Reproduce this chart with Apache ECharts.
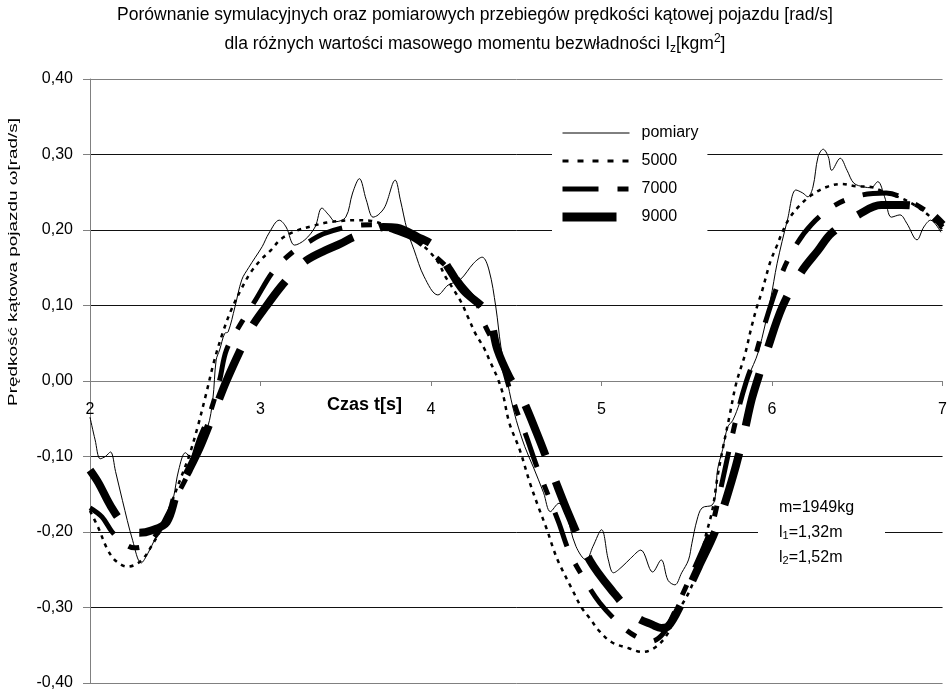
<!DOCTYPE html>
<html><head><meta charset="utf-8">
<script src="https://cdn.jsdelivr.net/npm/echarts/dist/echarts.min.js"></script>
<style>html,body{margin:0;padding:0;background:#fff}#c{width:950px;height:695px}</style>
</head><body><div id="c"></div>
<script>
// ---- data ----
const xTicks = [2, 3, 4, 5, 6, 7];
const yTicks = [-0.4, -0.3, -0.2, -0.1, 0, 0.1, 0.2, 0.3, 0.4];
const seriesNames = ['pomiary', '5000', '7000', '9000'];

const pomiaryT = [2.00,2.03,2.06,2.09,2.12,2.15,2.19,2.25,2.30,2.34,2.41,2.45,2.49,2.52,2.56,2.60,2.64,2.69,2.72,2.74,2.76,2.79,2.81,2.85,2.89,2.93,2.97,3.01,3.05,3.11,3.15,3.20,3.26,3.32,3.36,3.40,3.44,3.50,3.54,3.58,3.62,3.66,3.69,3.73,3.79,3.82,3.86,3.90,3.96,4.04,4.10,4.17,4.25,4.30,4.34,4.38,4.41,4.45,4.47,4.50,4.55,4.60,4.66,4.70,4.75,4.79,4.85,4.91,4.95,5.00,5.04,5.07,5.12,5.17,5.23,5.30,5.35,5.39,5.43,5.47,5.51,5.53,5.56,5.59,5.65,5.67,5.68,5.71,5.74,5.77,5.81,5.86,5.92,5.99,6.03,6.09,6.14,6.18,6.21,6.24,6.27,6.30,6.33,6.35,6.40,6.44,6.48,6.54,6.58,6.62,6.66,6.70,6.75,6.79,6.85,6.89,6.93,6.99];
const pomiaryV = [-0.048,-0.078,-0.103,-0.100,-0.094,-0.120,-0.158,-0.211,-0.241,-0.228,-0.197,-0.188,-0.154,-0.118,-0.095,-0.105,-0.082,-0.061,-0.025,0.028,0.041,0.063,0.065,0.098,0.134,0.150,0.164,0.178,0.196,0.213,0.204,0.180,0.187,0.204,0.229,0.220,0.211,0.217,0.249,0.268,0.240,0.217,0.220,0.231,0.266,0.240,0.200,0.174,0.138,0.114,0.127,0.134,0.156,0.164,0.147,0.098,0.045,-0.003,-0.025,-0.052,-0.087,-0.114,-0.148,-0.173,-0.162,-0.175,-0.219,-0.237,-0.219,-0.197,-0.237,-0.254,-0.246,-0.235,-0.224,-0.253,-0.237,-0.264,-0.270,-0.254,-0.237,-0.215,-0.184,-0.168,-0.164,-0.148,-0.118,-0.091,-0.061,-0.052,-0.029,0.005,0.039,0.107,0.156,0.213,0.253,0.249,0.244,0.257,0.297,0.307,0.297,0.279,0.295,0.279,0.262,0.257,0.256,0.264,0.244,0.217,0.220,0.209,0.187,0.204,0.213,0.197];

const sim5000T = [2.00,2.05,2.10,2.15,2.22,2.30,2.37,2.43,2.48,2.53,2.58,2.63,2.68,2.73,2.78,2.83,2.89,2.94,3.00,3.06,3.12,3.21,3.30,3.39,3.47,3.56,3.65,3.75,3.85,3.95,4.04,4.08,4.13,4.18,4.22,4.26,4.31,4.35,4.39,4.42,4.46,4.52,4.58,4.63,4.68,4.72,4.75,4.83,4.88,4.93,4.99,5.06,5.16,5.24,5.32,5.39,5.43,5.51,5.57,5.61,5.65,5.68,5.71,5.75,5.79,5.84,5.88,5.91,5.94,5.99,6.03,6.06,6.10,6.16,6.23,6.32,6.41,6.49,6.58,6.67,6.76,6.85,6.93,7.00];
const sim5000V = [-0.172,-0.195,-0.222,-0.238,-0.246,-0.238,-0.215,-0.190,-0.160,-0.130,-0.100,-0.062,-0.018,0.028,0.065,0.095,0.123,0.143,0.160,0.173,0.188,0.199,0.205,0.210,0.212,0.213,0.212,0.205,0.195,0.180,0.158,0.140,0.122,0.103,0.083,0.063,0.044,0.024,0.004,-0.016,-0.056,-0.091,-0.135,-0.167,-0.197,-0.224,-0.241,-0.277,-0.299,-0.314,-0.332,-0.346,-0.354,-0.359,-0.352,-0.334,-0.312,-0.281,-0.246,-0.206,-0.171,-0.127,-0.091,-0.047,-0.003,0.034,0.072,0.097,0.118,0.158,0.180,0.197,0.215,0.232,0.246,0.257,0.261,0.258,0.257,0.249,0.242,0.231,0.217,0.200];

const sim7000T = [2.00,2.07,2.13,2.20,2.26,2.33,2.40,2.46,2.52,2.58,2.64,2.70,2.76,2.80,2.89,2.97,3.08,3.20,3.28,3.37,3.53,3.69,3.77,3.90,4.00,4.12,4.19,4.27,4.31,4.40,4.46,4.50,4.56,4.62,4.69,4.75,4.81,4.90,4.99,5.12,5.20,5.29,5.36,5.42,5.50,5.57,5.64,5.68,5.74,5.80,5.85,5.90,5.94,6.05,6.13,6.23,6.37,6.52,6.67,6.79,6.91,7.00];
const sim7000V = [-0.168,-0.180,-0.200,-0.215,-0.221,-0.217,-0.200,-0.175,-0.148,-0.120,-0.078,-0.045,0.001,0.041,0.078,0.107,0.147,0.173,0.184,0.195,0.205,0.207,0.200,0.188,0.170,0.145,0.125,0.103,0.077,0.035,-0.010,-0.038,-0.074,-0.113,-0.153,-0.188,-0.226,-0.263,-0.294,-0.325,-0.338,-0.345,-0.335,-0.310,-0.270,-0.235,-0.197,-0.162,-0.100,-0.040,0.000,0.032,0.063,0.138,0.176,0.207,0.233,0.246,0.249,0.240,0.224,0.204];

const sim9000T = [2.00,2.05,2.12,2.20,2.29,2.36,2.45,2.51,2.58,2.65,2.74,2.80,2.88,2.95,3.03,3.12,3.20,3.27,3.38,3.47,3.55,3.65,3.72,3.80,3.92,4.02,4.11,4.19,4.33,4.39,4.46,4.53,4.62,4.72,4.81,4.93,5.07,5.20,5.30,5.35,5.39,5.47,5.57,5.67,5.77,5.83,5.88,5.92,5.97,6.06,6.17,6.27,6.35,6.52,6.64,6.76,6.85,6.93,7.00];
const sim9000V = [-0.118,-0.135,-0.165,-0.190,-0.201,-0.198,-0.187,-0.148,-0.118,-0.085,-0.034,0.000,0.040,0.072,0.098,0.125,0.145,0.160,0.173,0.182,0.191,0.198,0.204,0.203,0.191,0.178,0.147,0.120,0.090,0.041,0.005,-0.021,-0.069,-0.127,-0.178,-0.237,-0.280,-0.312,-0.323,-0.327,-0.325,-0.294,-0.246,-0.197,-0.127,-0.075,-0.025,0.005,0.040,0.098,0.144,0.173,0.196,0.222,0.233,0.233,0.231,0.222,0.207];

// ---- build ----
const zip = (t, v) => t.map((x, i) => [x, v[i]]);
const FONT = '"Liberation Sans", Arial, sans-serif';
const fmt = v => v.toFixed(2).replace('.', ',').replace('-0,00', '0,00');

const chart = echarts.init(document.getElementById('c'), null, {renderer: 'canvas'});
const styles = [
  {width: 1, type: 'solid'},
  {width: 2.5, type: [4, 5]},
  {width: 5, type: [36, 19, 11, 19]},
  {width: 8, type: [54, 28]}
];
const legendStyles = [
  {width: 1, type: 'solid'},
  {width: 3, type: [6, 9]},
  {width: 5, type: [36, 19, 11, 19]},
  {width: 9, type: [54, 20]}
];
const dataSets = [zip(pomiaryT, pomiaryV), zip(sim5000T, sim5000V), zip(sim7000T, sim7000V), zip(sim9000T, sim9000V)];

chart.setOption({
  animation: false,
  backgroundColor: '#fff',
  color: ['#000'],
  textStyle: {fontFamily: FONT},
  title: [
    {text: 'Porównanie symulacyjnych oraz pomiarowych przebiegów prędkości kątowej pojazdu [rad/s]',
     left: 'center', top: 0,
     textStyle: {fontFamily: FONT, fontSize: 17.5, fontWeight: 'normal', color: '#000', lineHeight: 20}},
    {text: 'dla różnych wartości masowego momentu bezwładności I{sub|z}[kgm{sup|2}]',
     left: 'center', top: 28,
     textStyle: {fontFamily: FONT, fontSize: 17.5, fontWeight: 'normal', color: '#000', lineHeight: 22,
       rich: {
         sub: {fontFamily: FONT, fontSize: 12, lineHeight: 12, verticalAlign: 'bottom', color: '#000'},
         sup: {fontFamily: FONT, fontSize: 12, lineHeight: 12, verticalAlign: 'top', color: '#000'}
       }}}
  ],
  grid: {left: 90, right: 1, top: 79, bottom: 12, containLabel: false},
  legend: {
    orient: 'vertical', left: 552, top: 120,
    padding: [5, 9, 9, 6],
    backgroundColor: '#fff',
    itemWidth: 67, itemHeight: 16, itemGap: 12,
    textStyle: {fontFamily: FONT, fontSize: 16, color: '#000', padding: [0, 0, 0, 7], lineHeight: 16},
    data: seriesNames.map((n, i) => ({
      name: n,
      itemStyle: {opacity: 0},
      lineStyle: Object.assign({color: '#000', cap: 'butt', opacity: 1}, legendStyles[i])
    }))
  },
  xAxis: {
    type: 'value', min: 2, max: 7, interval: 1,
    position: 'bottom', offset: -302,
    axisLine: {onZero: false, lineStyle: {color: '#808080', width: 1}},
    axisTick: {show: true, length: 5, lineStyle: {color: '#808080'}},
    axisLabel: {fontFamily: FONT, fontSize: 16, color: '#000', margin: 21,
      formatter: v => xTicks.includes(v) ? String(v) : ''},
    splitLine: {show: false}
  },
  yAxis: {
    type: 'value', min: -0.4, max: 0.4, interval: 0.1,
    axisLine: {show: true, lineStyle: {color: '#808080', width: 1}},
    axisTick: {show: true, length: 7, lineStyle: {color: '#808080'}},
    axisLabel: {fontFamily: FONT, fontSize: 16, color: '#000', margin: 17, formatter: v => fmt(v)},
    splitLine: {show: true, lineStyle: {color: yTicks.map((v, i) => (i === 0 || i === yTicks.length - 1) ? '#808080' : '#111'), width: 1}}
  },
  series: seriesNames.map((n, i) => ({
    name: n, type: 'line', data: dataSets[i],
    symbol: 'none', smooth: 0.35,
    z: i === 0 ? 5 : 2 + i * 0.1,
    itemStyle: {color: '#000'},
    lineStyle: Object.assign({color: '#000', cap: 'butt', join: 'round'}, styles[i])
  })),
  graphic: [
    {type: 'text', x: 13, y: 262, rotation: Math.PI / 2, scaleX: 1.4,
     style: {text: 'Prędkość kątowa pojazdu ω[rad/s]', font: '13.5px ' + FONT, fill: '#000', align: 'center', verticalAlign: 'middle'}},
    {type: 'text', x: 327, y: 405,
     style: {text: 'Czas t[s]', font: 'bold 18px ' + FONT, fill: '#000', align: 'left', verticalAlign: 'middle'}},
    {type: 'rect', shape: {x: 758, y: 492, width: 127, height: 80}, style: {fill: '#fff'}, z: 10},
    {type: 'text', x: 779, y: 508, z: 11,
     style: {text: 'm=1949kg', font: '16px ' + FONT, fill: '#000', verticalAlign: 'middle'}},
    {type: 'text', x: 779, y: 533, z: 11,
     style: {text: 'l{s|1}=1,32m', font: '16px ' + FONT, fill: '#000', verticalAlign: 'middle',
       rich: {s: {font: '11px ' + FONT, fill: '#000', lineHeight: 12, verticalAlign: 'bottom'}}}},
    {type: 'text', x: 779, y: 558, z: 11,
     style: {text: 'l{s|2}=1,52m', font: '16px ' + FONT, fill: '#000', verticalAlign: 'middle',
       rich: {s: {font: '11px ' + FONT, fill: '#000', lineHeight: 12, verticalAlign: 'bottom'}}}}
  ]
});
</script>
</body></html>
